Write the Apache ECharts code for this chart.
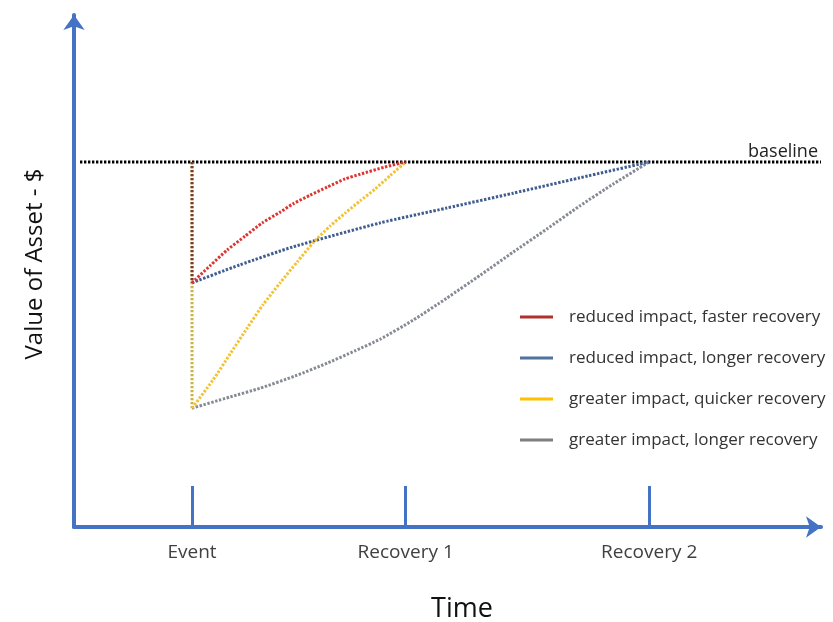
<!DOCTYPE html>
<html><head><meta charset="utf-8">
<script src="https://cdn.jsdelivr.net/npm/echarts@6/dist/echarts.min.js"></script>
<style>html,body{margin:0;padding:0;background:#fff}#c{width:833px;height:622px}</style>
</head><body><div id="c"></div>
<script>
// x positions (time units 0..100) and values (0..100)
const tickValues = [15.8, 44.4, 77.0];
const tickLabels = ['Event', 'Recovery 1', 'Recovery 2'];
const seriesNames = ['reduced impact, faster recovery','reduced impact, longer recovery','greater impact, quicker recovery','greater impact, longer recovery'];
const baselineValue = 71.3;
const baselineX = [0.8, 100];
const reducedLow = 47.7;
const greaterLow = 23.2;
const redCurve = [[15.8,47.7],[18.2,51.0],[20.5,54.1],[22.9,56.8],[25.2,59.4],[27.6,61.5],[29.3,63.1],[31.6,64.8],[33.9,66.4],[36.3,68.0],[38.3,68.9],[41.6,70.3],[44.4,71.3]];
const blueCurve = [[15.8,47.7],[22.2,51.2],[29.3,54.7],[41.0,59.4],[49.9,62.3],[58.8,65.2],[67.7,68.2],[77.0,71.3]];
const yellowCurve = [[15.8,23.2],[18.6,28.7],[20.9,33.8],[23.2,38.9],[25.3,43.4],[27.6,47.7],[29.9,51.8],[32.0,55.5],[34.3,58.8],[36.3,61.3],[38.3,63.7],[40.3,66.0],[42.3,68.6],[44.4,71.3]];
const grayCurve = [[15.8,23.2],[20.9,25.4],[24.9,27.1],[29.6,29.5],[33.9,32.0],[37.6,34.4],[41.0,36.7],[45.4,40.4],[49.9,44.7],[54.4,49.2],[58.8,53.7],[63.3,58.2],[67.7,62.7],[72.2,67.0],[77.0,71.3]];

const axisBlue = '#4472c4';
const dot = [2.4, 1.6];
const LW = 3;
function curve(name, data, lineColor, legendColor, z) {
  return {name, type:'line', data, showSymbol:false, symbol:'none', smooth:0.2, z,
    itemStyle:{color:legendColor}, lineStyle:{color:lineColor, width:LW, type:dot}, silent:true};
}
const chart = echarts.init(document.getElementById('c'));
chart.setOption({
  animation:false,
  backgroundColor:'#fff',
  grid:{left:74, right:12, top:15, bottom:95, containLabel:false, outerBoundsMode:'none'},
  legend:{
    orient:'vertical', left:515, top:302, icon:'rect', itemWidth:33, itemHeight:3, itemGap:21,
    data: seriesNames,
    textStyle:{fontSize:17, color:'#333', fontFamily:'Open Sans', lineHeight:20, padding:[0,0,0,11]},
    selectedMode:false
  },
  xAxis:{
    type:'value', min:0, max:100,
    axisLine:{show:true, symbol:['none','arrow'], symbolSize:[16,15], lineStyle:{color:axisBlue, width:4}},
    axisTick:{show:true, inside:true, length:41, customValues:tickValues, lineStyle:{color:axisBlue, width:3}},
    axisLabel:{show:true, customValues:tickValues, margin:16, fontSize:19, color:'#404040', fontFamily:'Open Sans',
      formatter:function(v){ const i = tickValues.findIndex(t=>Math.abs(t-v)<0.01); return i>=0?tickLabels[i]:''; }},
    splitLine:{show:false},
    name:'Time', nameLocation:'middle', nameGap:69,
    nameTextStyle:{fontSize:27, color:'#111', fontFamily:'Open Sans', padding:[0,0,0,29]}
  },
  yAxis:{
    type:'value', min:0, max:100,
    axisLine:{show:true, symbol:['none','arrow'], symbolSize:[16,15], lineStyle:{color:axisBlue, width:4}},
    axisTick:{show:false}, axisLabel:{show:false}, splitLine:{show:false},
    name:'Value of Asset - $', nameLocation:'middle', nameGap:27,
    nameTextStyle:{fontSize:24, color:'#111', fontFamily:'Open Sans', padding:[0,0,0,14]}
  },
  series:[
    {name:'baseline', type:'line', data:[[baselineX[0],baselineValue],[baselineX[1],baselineValue]], symbol:'none', z:1,
      lineStyle:{color:'#000', width:LW, type:dot}, silent:true,
      endLabel:{show:true, formatter:'baseline', align:'right', distance:0, offset:[-3,-10], fontSize:18, color:'#222', fontFamily:'Open Sans'}},
    {name:'dropGreater', type:'line', data:[[tickValues[0],baselineValue],[tickValues[0],greaterLow]], symbol:'none', z:2,
      lineStyle:{color:'#c9b446', width:LW, type:dot}, silent:true},
    {name:'dropReduced', type:'line', data:[[tickValues[0],baselineValue],[tickValues[0],reducedLow]], symbol:'none', z:3,
      lineStyle:{color:'#7a3b30', width:LW, type:dot}, silent:true},
    curve(seriesNames[3], grayCurve, '#868a94', '#7f7f7f', 4),
    curve(seriesNames[1], blueCurve, '#3f5d8e', '#4f739e', 5),
    curve(seriesNames[2], yellowCurve, '#f2c230', '#ffc000', 6),
    curve(seriesNames[0], redCurve, '#de3530', '#b0302c', 7)
  ]
});
</script></body></html>
